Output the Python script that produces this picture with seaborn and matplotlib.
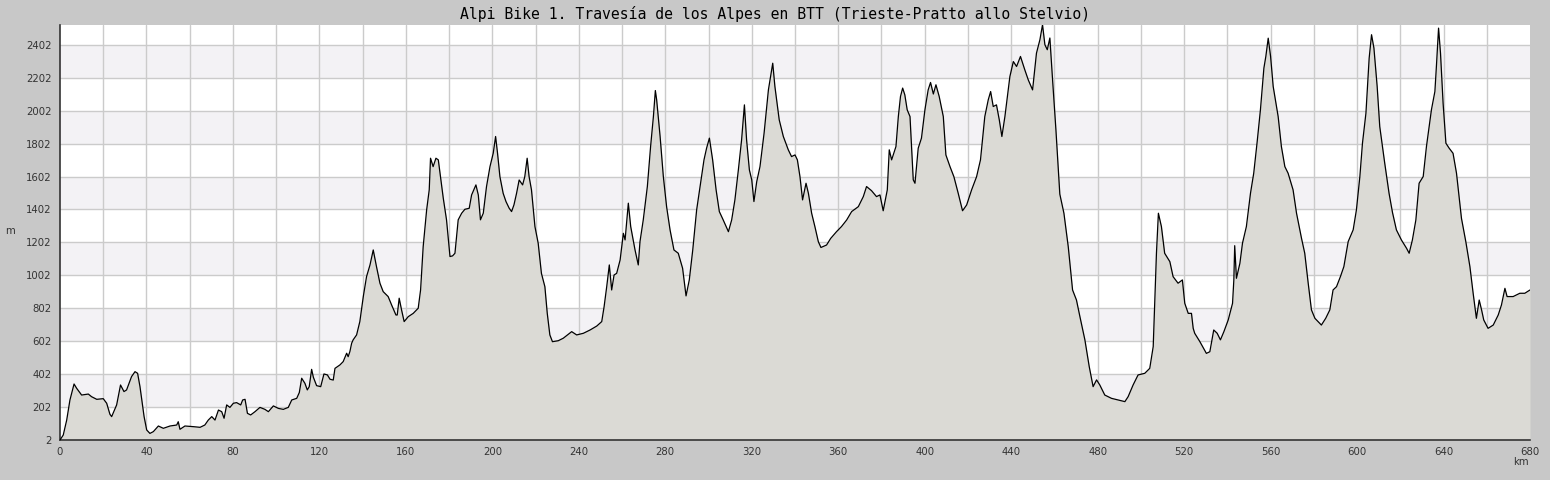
import numpy as np
import pandas as pd
import seaborn as sns
import matplotlib
matplotlib.use("Agg")
from matplotlib import pyplot as plt
from matplotlib.ticker import MultipleLocator, FixedLocator

title = "Alpi Bike 1. Travesía de los Alpes en BTT (Trieste-Pratto allo Stelvio)"

# distance (km) / elevation (m)
km = [0, 1.5, 3.1, 4.6, 6.5, 7.7, 10, 13.1, 14.6, 17, 20, 21.6, 23.1, 23.9, 26.2, 28, 29.6, 30.8,
      33.1, 34.7, 35.9, 37, 38.9, 40.1, 41.6, 43.2, 45.5, 47.8, 50.9, 54, 54.7, 55.5, 57.8, 61.7,
      64.8, 67, 68.6, 70.2, 71.7, 73.3, 74.8, 75.9, 77.1, 78.6, 80.2, 81.7, 83.6, 84.5, 85.6, 86.7,
      88.2, 90.2, 92.5, 94.8, 96.4, 98.7, 101, 103.3, 105.6, 107.2, 109.5, 110.7, 111.8, 113.3,
      114.4, 115.3, 116.4, 117.2, 118.7, 120.6, 122.1, 123.7, 124.9, 126.4, 127.2, 129.5, 131,
      132.6, 133.3, 134.1, 134.9, 135.6, 137.2, 138.7,
      140.3, 141.8, 143.4, 144.9, 146.4, 148, 149.5, 151.8, 153.4, 155.4, 156, 156.9, 158, 159.2,
      161.1, 163.4, 165.7, 166.8, 168, 169.6, 170.8, 171.4, 172.6, 173.9, 175, 176, 177.3, 178.8,
      180.4, 181.6, 182.7, 184.2, 185.8, 187.3, 189.3, 190.4, 192.4, 193.5, 194.5, 195.8, 197.3,
      198.9, 200.4, 201.5, 202.4, 203.5, 205, 206.3, 207.8, 208.9, 210, 211.2, 212.4, 214, 215,
      216.1, 217, 218.1, 219.7, 221.2, 222.7, 224.3, 225.4, 226.6, 227.8, 230.5, 232.8,
      236.7, 239, 242.1, 245.2, 248.3, 250.6, 251.7, 252.9, 254.1, 255.2, 256.3, 257.5, 259.1,
      260.6, 261.4, 262.9, 264, 266, 267.5, 268.3, 269.8, 271.7, 273.2, 274.5, 275.4, 276, 277.6,
      279.1, 280.6, 282.2, 284, 286, 288, 289.6, 291.1, 292.7, 294.5, 296.1, 297.9, 299.1, 300.4,
      301.9, 303.5, 305, 306.8, 309.2, 310.7, 312.2, 313.8, 315.3, 316.6, 317.6, 318.9, 320, 321,
      322.3, 323.8, 325.7, 327.7, 329.7, 330.7, 332.7, 334.6, 336.9, 338.4, 340, 341.1, 342.3,
      343.5, 345.1, 346.2, 347.7, 349.2,
      350.8, 352, 354.6, 356.5, 359.2, 361.5, 363.9, 366.2, 369.3, 371.6, 373.1, 375.4, 377.7,
      379.3, 380.8, 382.7, 383.6, 384.7, 386.7, 387.8, 388.8, 389.8, 390.8, 391.9, 393.2, 393.9,
      394.7, 395.5, 397, 398.5, 400.1, 401.6, 402.7, 404, 405.2, 406.7, 408.6, 409.8, 411.7, 413.5,
      415.5, 417.5, 419.4, 421.7, 424, 425.8, 427.8, 429.4, 430.5, 431.7, 433.2, 434.5, 435.7,
      437.1, 439.4, 441, 442.5, 444.3, 446.3, 447.9, 449.9, 451.7, 453.3, 454.5, 455.6, 456.7,
      457.9, 459.1, 460.7, 462.5,
      464.4, 466.4, 468.4, 470.2, 471.8, 474.1, 476.1, 477.9, 479.5, 481, 483.3, 486.4, 489.5,
      492.6, 494.1, 496.4, 498.7, 501.8, 504.1, 505.7, 507.2, 508.1, 509.5, 511, 513.4, 514.9,
      517.2, 519.2, 520.3, 521.9, 523.4, 524.2, 524.9, 527.3, 530.3, 531.9, 533.7, 535.3, 536.8,
      538.4, 540.4, 542.4, 543, 543.4, 544.2, 545.8, 547, 548.8, 550.7, 552.2, 553.8, 555.3, 556.9,
      557.8, 558.9, 560, 561.2, 563.5, 565, 566.6, 568.1,
      570.4, 572, 574.3, 575.8, 577.4, 578.9, 580.5, 583.5, 585.5, 587.4, 588.9, 590.5, 592.3,
      593.9, 595.9, 598.2, 599.7, 601.3, 602.5, 604.1, 605.6, 606.7, 607.8, 609.3, 610.5, 612.8,
      614.8, 616.4, 618.2, 620.5, 622.9, 624.1, 625.6, 627.2, 628.7, 630.6, 632.1, 634.4, 636,
      636.7, 637.7, 638.6, 639.8, 641.1, 642.6, 644.4, 646, 648.3, 650.3, 652.2, 653.7, 655.2,
      656.5, 657.6, 658.6, 660.6, 663, 665.3, 666.8, 668.4, 669.4, 672.2, 675.3, 677.6, 680]

elev = [2, 32, 123, 245, 342, 316, 275, 281, 265, 249, 253, 225, 158, 144, 215, 336, 296, 306,
        387, 417, 407, 326, 144, 63, 42, 53, 87, 73, 87, 93, 113, 67, 87, 83,
        79, 93, 123, 144, 123, 184, 174, 134, 215, 200, 225, 229, 215, 245, 249, 164,
        154, 174, 200, 188, 174, 209, 194, 188, 200, 245, 255, 290, 377, 346,
        306, 326, 431, 383, 332, 326, 403, 397, 371, 366, 437, 458, 478,
        529, 508, 539, 589, 610, 640, 721,
        873, 994, 1065, 1156, 1055, 954, 903, 873, 822, 761, 761, 863, 792, 721,
        751, 771, 802, 913, 1176, 1399, 1521, 1713, 1662, 1713, 1703, 1601, 1470, 1339,
        1116, 1120, 1136, 1339, 1379, 1403, 1409, 1490, 1551, 1490, 1339, 1379, 1541,
        1662, 1743, 1845, 1743, 1601, 1500, 1450, 1409, 1389, 1430, 1500, 1581, 1551, 1601,
        1713, 1601, 1521, 1298, 1197, 1014, 933, 771, 640, 599, 605, 620,
        660, 640, 650, 670, 694, 721, 812, 933, 1065, 913, 1004, 1014, 1095,
        1257, 1217, 1440, 1298, 1156, 1065, 1207, 1338, 1541, 1784, 1966, 2124, 2068, 1845,
        1601, 1419, 1278, 1156, 1136, 1045, 877, 974, 1156, 1399, 1541, 1703, 1774, 1835,
        1703, 1521, 1389, 1338, 1267, 1338, 1460, 1642, 1825, 2037, 1825, 1642, 1581, 1450,
        1571, 1662, 1865, 2128, 2290, 2149, 1946, 1845, 1764, 1723, 1733, 1703, 1601,
        1460, 1561, 1500, 1379, 1298,
        1206, 1171, 1186, 1226, 1267, 1298, 1338, 1389, 1419, 1480, 1541, 1516, 1480,
        1490, 1394, 1521, 1764, 1703, 1784, 1966, 2088, 2139, 2098, 2007, 1966, 1784,
        1582, 1561, 1774, 1835, 2007, 2128, 2173, 2103, 2159, 2088, 1966, 1733, 1662, 1601,
        1500, 1394, 1429, 1521, 1601, 1703, 1966, 2068, 2118, 2027, 2037, 1946, 1845,
        1966, 2209, 2300, 2270, 2331, 2250, 2189, 2128, 2351, 2433, 2524, 2402, 2372,
        2443, 2199, 1885, 1495,
        1379, 1176, 913, 852, 751, 610, 448, 326, 367, 336, 275, 255, 245,
        235, 265, 336, 397, 407, 437, 569, 1136, 1379, 1298, 1136, 1085, 994,
        954, 974, 832, 771, 771, 680, 650, 599, 528, 538, 670, 650, 610,
        660, 731, 832, 974, 1182, 984, 1075, 1197, 1298, 1500, 1622, 1814, 2007, 2260,
        2331, 2442, 2331, 2149, 1966, 1784, 1662, 1622,
        1521, 1379, 1227, 1136, 954, 792, 741, 700, 741, 792, 913, 933, 994,
        1055, 1207, 1278, 1399, 1602, 1804, 1986, 2321, 2463, 2382, 2149, 1905, 1683,
        1500, 1383, 1278, 1217, 1166, 1136, 1217, 1338, 1561, 1602, 1784, 2007, 2118,
        2270, 2503, 2351, 2047, 1804, 1774, 1743, 1622, 1348, 1207, 1055, 893, 741,
        852, 792, 731, 680, 700, 761, 822, 923, 873, 873, 893, 893, 913]

y_ticks = list(range(2, 2403, 200))
x_ticks = list(range(0, 681, 40))
shaded_bands = [(202, 402), (602, 802), (1002, 1202), (1402, 1602), (1802, 2002), (2202, 2402)]

df = pd.DataFrame({"km": km, "m": elev})

sns.set_style("white")
plt.rcParams["font.family"] = ["DejaVu Sans"]

fig = plt.figure(figsize=(15.5, 4.8), dpi=100, facecolor="#c8c8c8")
ax = fig.add_axes([60 / 1550, 1 - 440 / 480, 1470 / 1550, 415 / 480])
ax.set_facecolor("white")

for lo, hi in shaded_bands:
    ax.axhspan(lo, hi, color="#f3f2f5", zorder=0, lw=0)
for y in y_ticks:
    ax.axhline(y, color="#cbcbcb", lw=1, zorder=1)
for x in range(20, 680, 20):
    ax.axvline(x, color="#cbcbcb", lw=1, zorder=1)

ax.fill_between(df["km"], 2, df["m"], color="#dbdad5", zorder=2, lw=0)
sns.lineplot(data=df, x="km", y="m", color="black", lw=0.9, estimator=None, sort=False, ax=ax, zorder=3)

ax.set_xlim(0, 680)
ax.set_ylim(2, 2522)
ax.set_xticks(x_ticks)
ax.set_yticks(y_ticks)
ax.xaxis.set_minor_locator(FixedLocator([v for v in range(10, 680, 10) if v % 40]))
ax.yaxis.set_minor_locator(FixedLocator(list(range(102, 2522, 200))))
ax.tick_params(axis="both", which="major", direction="out", length=4, width=1,
               color="#333333", labelsize=7.3, labelcolor="#333333")
ax.tick_params(axis="x", which="major", pad=1)
ax.tick_params(axis="y", which="major", pad=2)
ax.tick_params(axis="both", which="minor", direction="in", length=4, width=1, color="#333333")

for side in ["top", "right"]:
    ax.spines[side].set_visible(False)
for side in ["left", "bottom"]:
    ax.spines[side].set_color("#333333")
    ax.spines[side].set_linewidth(1.2)

ax.set_xlabel("")
ax.set_ylabel("")
fig.text(10 / 1550, 1 - 231 / 480, "m", fontsize=7.3, color="#333333", ha="center", va="center")
fig.text(1521 / 1550, 1 - 462 / 480, "km", fontsize=7.3, color="#333333", ha="center", va="center")
fig.text(0.5, 1 - 14 / 480, title, family="DejaVu Sans Mono", fontsize=10.6,
         ha="center", va="center", color="black")

fig.savefig("out.png", dpi=100, facecolor=fig.get_facecolor())
